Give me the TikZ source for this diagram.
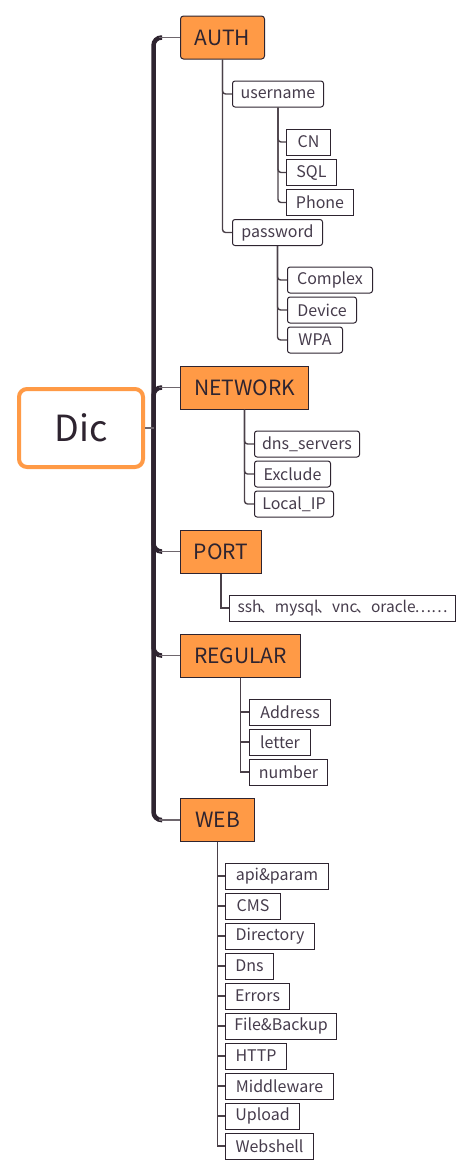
\documentclass[tikz,border=0pt]{standalone}
\usepackage{fontspec}
\setmainfont{Noto Sans CJK SC}
\usetikzlibrary{calc}
\definecolor{orng}{HTML}{FF9A46}
\definecolor{ink}{HTML}{2E2430}
\definecolor{txt}{HTML}{463C4C}
\definecolor{lnk}{HTML}{4A4048}
\tikzset{
  mainbox/.style={draw=ink, line width=1pt, fill=orng, anchor=west, minimum height=43pt, inner sep=0pt, text=ink, font=\fontsize{21}{25}\selectfont},
  leaf/.style={draw=ink, line width=1pt, fill=white, anchor=west, minimum height=26pt, inner sep=0pt, text=txt, font=\fontsize{16}{19}\selectfont},
  rnd/.style={rounded corners=2.5pt},
  conn/.style={draw=lnk, line width=1.4pt, rounded corners=3pt},
  trunk/.style={draw=ink, line width=4.5pt, rounded corners=8pt},
  branch/.style={draw=lnk!80, line width=1.4pt},
}
\begin{document}
\begin{tikzpicture}[x=1pt,y=-1pt]
\useasboundingbox (0,0) rectangle (472,1176);
% root
\node[draw=orng, line width=4pt, rounded corners=8pt, fill=white, minimum width=124pt, minimum height=78pt, inner sep=0pt, text=ink, font=\fontsize{36}{42}\selectfont] (dic) at (81,428) {Dic};
\coordinate (tc) at (153.5,428);
% main branches
\node[mainbox, rounded corners=3pt, minimum width=84pt] (auth) at (180,37.5) {AUTH};
\node[mainbox, minimum width=128pt] (net) at (180,387.5) {NETWORK};
\node[mainbox, minimum width=81pt] (port) at (180,551.5) {PORT};
\node[mainbox, minimum width=120pt] (reg) at (180,655.5) {REGULAR};
\node[mainbox, minimum width=74pt] (web) at (180,820) {WEB};
% trunk
\foreach \b in {auth,net,port,reg,web}{
  \draw[trunk] (tc) |- ([xshift=-18pt]\b.west);
  \draw[branch] ([xshift=-21pt]\b.west) -- (\b.west);
}
\draw[branch] (dic.east) -- (tc);
% AUTH
\node[leaf, rnd, minimum width=91pt] (user) at (232,94) {username};
\node[leaf, rnd, minimum width=90pt] (pass) at (232,232.5) {password};
\node[leaf, minimum width=44pt] (cn) at (286,142) {CN};
\node[leaf, minimum width=50pt] (sql) at (286,172.5) {SQL};
\node[leaf, minimum width=67pt] (phone) at (286,202.5) {Phone};
\node[leaf, rnd, minimum width=85pt] (complex) at (287,280) {Complex};
\node[leaf, rnd, minimum width=69pt] (device) at (287,310) {Device};
\node[leaf, rnd, minimum width=55pt] (wpa) at (287,340) {WPA};
\foreach \c in {user,pass}{\draw[conn] (auth.south) |- (\c.west);}
\foreach \c in {cn,sql,phone}{\draw[conn] (user.south) |- (\c.west);}
\foreach \c in {complex,device,wpa}{\draw[conn] (pass.south) |- (\c.west);}
% NETWORK
\node[leaf, rnd, minimum width=105pt] (dns) at (254,444) {dns\_servers};
\node[leaf, rnd, minimum width=76pt] (excl) at (254,474) {Exclude};
\node[leaf, rnd, minimum width=79pt] (lip) at (254,504) {Local\_IP};
\foreach \c in {dns,excl,lip}{\draw[conn] (net.south) |- (\c.west);}
% PORT
\node[leaf, minimum width=226pt, font=\fontsize{15.5}{19}\selectfont] (ssh) at (229,608) {ssh\kern-2pt、mysql\kern-2pt、vnc\kern-2pt、oracle\kern-1pt……};
\draw[conn, rounded corners=0pt] (port.south) |- (ssh.west);
% REGULAR
\node[leaf, minimum width=81pt] (addr) at (249,712) {Address};
\node[leaf, minimum width=61pt] (letter) at (249,742) {letter};
\node[leaf, minimum width=78pt] (number) at (249,772) {number};
\foreach \c in {addr,letter,number}{\draw[conn, rounded corners=0pt] (reg.south) |- (\c.west);}
% WEB
\node[leaf, minimum width=103pt] (w1) at (225,876) {api\&param};
\node[leaf, minimum width=55pt] (w2) at (225,906) {CMS};
\node[leaf, minimum width=89pt] (w3) at (225,936) {Directory};
\node[leaf, minimum width=48pt] (w4) at (225,966) {Dns};
\node[leaf, minimum width=64pt] (w5) at (225,996) {Errors};
\node[leaf, minimum width=111pt] (w6) at (225,1026) {File\&Backup};
\node[leaf, minimum width=61pt] (w7) at (225,1056) {HTTP};
\node[leaf, minimum width=108pt] (w8) at (225,1086) {Middleware};
\node[leaf, minimum width=74pt] (w9) at (225,1116) {Upload};
\node[leaf, minimum width=88pt] (w10) at (225,1146) {Webshell};
\foreach \c in {w1,w2,w3,w4,w5,w6,w7,w8,w9,w10}{\draw[conn, rounded corners=0pt] (web.south) |- (\c.west);}
\end{tikzpicture}
\end{document}
